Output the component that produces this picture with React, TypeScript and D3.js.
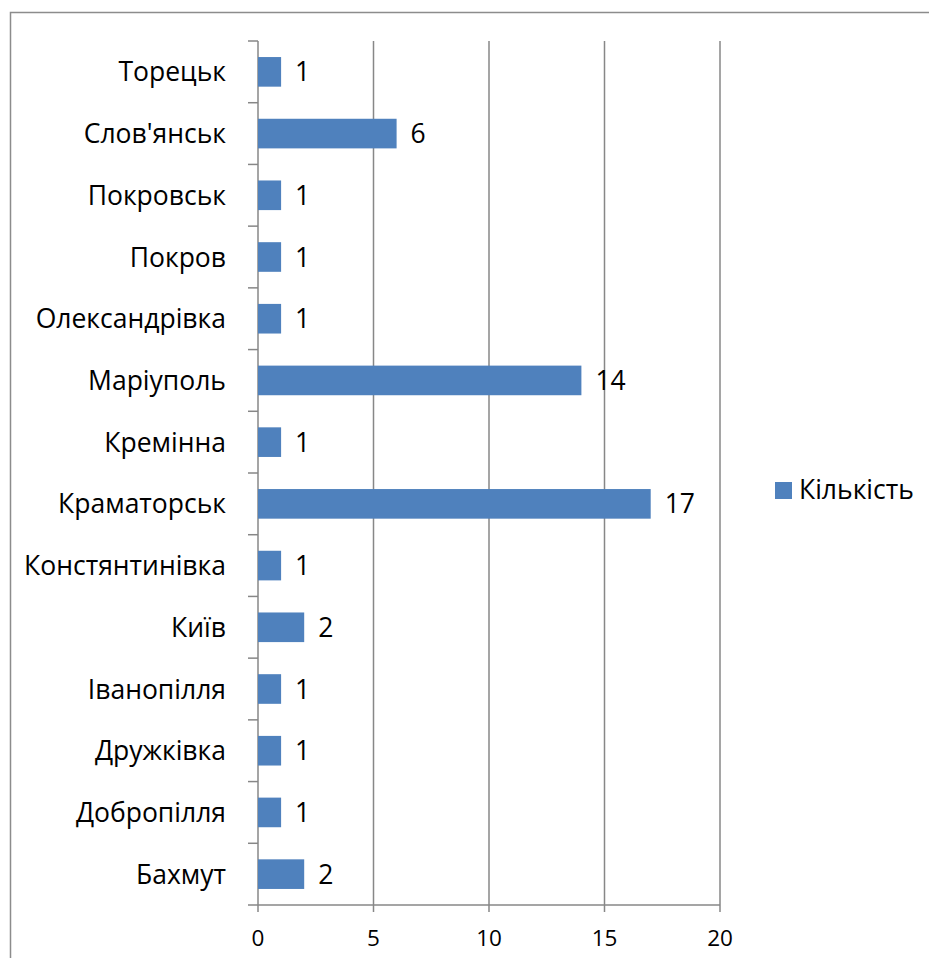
import React from "react";
import * as d3 from "d3";

const categories = [
  "Торецьк",
  "Слов'янськ",
  "Покровськ",
  "Покров",
  "Олександрівка",
  "Маріуполь",
  "Кремінна",
  "Краматорськ",
  "Констянтинівка",
  "Київ",
  "Іванопілля",
  "Дружківка",
  "Добропілля",
  "Бахмут",
];
const values = [1, 6, 1, 1, 1, 14, 1, 17, 1, 2, 1, 1, 1, 2];
const xTicks = [0, 5, 10, 15, 20];
const seriesName = "Кількість";

const W = 929;
const H = 958;
const FONT = "'Open Sans', sans-serif";
const BAR = "#4F81BD";
const GRID = "#878787";

export default function App() {
  const left = 258;
  const right = 720;
  const top = 41;
  const bottom = 905;
  const x = d3.scaleLinear().domain([0, 20]).range([left, right]);
  const y = d3.scaleBand().domain(categories).range([top, bottom]).paddingInner(0.52).paddingOuter(0.26);
  const bounds = d3.range(categories.length + 1).map((i) => top + ((bottom - top) * i) / categories.length);

  return (
    <svg width={W} height={H} style={{ position: "absolute", left: 0, top: 0, background: "#fff" }}>
      <rect x={10.5} y={12.5} width={W + 10} height={H + 10} fill="#fff" stroke="#8c8c8c" strokeWidth={1.5} />
      {xTicks.map((t) => (
        <line key={"g" + t} x1={x(t)} x2={x(t)} y1={top} y2={bottom + 7} stroke={GRID} strokeWidth={1.5} />
      ))}
      <line x1={left} x2={right} y1={bottom} y2={bottom} stroke={GRID} strokeWidth={1.5} />
      {bounds.map((b, i) => (
        <line key={"t" + i} x1={left - 10} x2={left} y1={b} y2={b} stroke={GRID} strokeWidth={1.5} />
      ))}
      {categories.map((c, i) => (
        <g key={c}>
          <rect x={x(0)} y={y(c)!} width={x(values[i]) - x(0)} height={y.bandwidth()} fill={BAR} />
          <text
            x={left - 32}
            y={y(c)! + y.bandwidth() / 2}
            dy="0.36em"
            textAnchor="end"
            fontFamily={FONT}
            fontSize={26.5}
            fill="#000"
          >
            {c}
          </text>
          <text
            x={x(values[i]) + 14}
            y={y(c)! + y.bandwidth() / 2}
            dy="0.36em"
            fontFamily={FONT}
            fontSize={26.5}
            fill="#000"
          >
            {values[i]}
          </text>
        </g>
      ))}
      {xTicks.map((t) => (
        <text key={"l" + t} x={x(t)} y={946} textAnchor="middle" fontFamily={FONT} fontSize={22.5} fill="#000">
          {t}
        </text>
      ))}
      <rect x={775} y={482} width={17} height={17} fill={BAR} />
      <text x={799} y={499} fontFamily={FONT} fontSize={26.5} fill="#000">
        {seriesName}
      </text>
    </svg>
  );
}
